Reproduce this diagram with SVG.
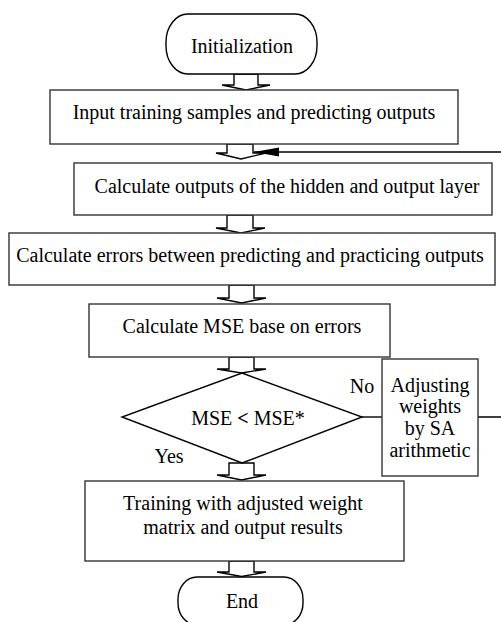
<svg xmlns="http://www.w3.org/2000/svg" width="501" height="622" viewBox="0 0 501 622">
<style>
.box{fill:#fff;stroke:#333;stroke-width:1.4}
.term{fill:#fff;stroke:#000;stroke-width:1.4}
.dia{fill:#fff;stroke:#000;stroke-width:1.4}
.ba{fill:#fff;stroke:#000;stroke-width:1.4;stroke-linejoin:miter}
.ln{fill:none;stroke:#000;stroke-width:1.4}
.t{font-family:'Liberation Serif','Times New Roman','DejaVu Serif',serif;font-size:20px;fill:#000;text-anchor:middle}
</style>
<defs>
<marker id="ah" markerWidth="26" markerHeight="10" refX="25" refY="5" orient="auto" markerUnits="userSpaceOnUse">
<path d="M0,0.5 L25,5 L0,9.5 Z" fill="#000"/>
</marker>
</defs>
<rect width="501" height="622" fill="#fff"/>
<g id="connectors">
<polygon class="ba" points="234,74 234,85 222,85 246,90 270,85 258,85 258,74"/>
<polygon class="ba" points="227,144 227,153 216,153 241,159 266,153 253,153 253,144"/>
<polygon class="ba" points="227,215 227,228 216,228 241,233 265,228 253,228 253,215"/>
<polygon class="ba" points="229,285 229,298 217,298 241.5,303 266,298 254,298 254,285"/>
<polygon class="ba" points="229,357 229,369 217,369 241.5,373 266,369 254,369 254,357"/>
<polygon class="ba" points="229,463 229,475 217,475 241.5,480 266,475 254,475 254,463"/>
<polygon class="ba" points="229,561 229,572 217,572 241.5,576.5 266,572 254,572 254,561"/>
<line class="ln" x1="362" y1="417" x2="382" y2="417"/>
<path class="ln" d="M478,417 H504 V152 H254" marker-end="url(#ah)"/>
<text class="t" x="362" y="393">No</text>
<text class="t" x="169" y="463">Yes</text>
</g>
<g id="init">
<rect class="term" x="166" y="14" width="151" height="60" rx="22" ry="28"/>
<text class="t" x="242" y="53">Initialization</text>
</g>
<g id="input">
<rect class="box" x="50" y="90" width="408" height="54"/>
<text class="t" x="254" y="119">Input training samples and predicting outputs</text>
</g>
<g id="calcout">
<rect class="box" x="74" y="163" width="418" height="52"/>
<text class="t" x="287" y="193">Calculate outputs of the hidden and output layer</text>
</g>
<g id="calcerr">
<rect class="box" x="9" y="233" width="486" height="52"/>
<text class="t" x="250" y="262">Calculate errors between predicting and practicing outputs</text>
</g>
<g id="mse">
<rect class="box" x="89" y="304" width="301" height="53"/>
<text class="t" x="242" y="333">Calculate MSE base on errors</text>
</g>
<g id="decision">
<polygon class="dia" points="242,373 362,417 242,463 122,417"/>
<text class="t" x="248" y="425">MSE <tspan font-weight="bold">&lt;</tspan> MSE*</text>
</g>
<g id="adjust">
<rect class="box" x="382" y="359" width="96" height="117"/>
<text class="t" x="430" y="392">Adjusting</text>
<text class="t" x="430" y="413">weights</text>
<text class="t" x="430" y="435">by SA</text>
<text class="t" x="430" y="457">arithmetic</text>
</g>
<g id="train">
<rect class="box" x="85" y="481" width="319" height="80"/>
<text class="t" x="243" y="510">Training with adjusted weight</text>
<text class="t" x="243" y="534">matrix and output results</text>
</g>
<g id="end">
<rect class="term" x="178" y="577" width="125" height="48" rx="19" ry="22"/>
<text class="t" x="242" y="608">End</text>
</g>
</svg>
